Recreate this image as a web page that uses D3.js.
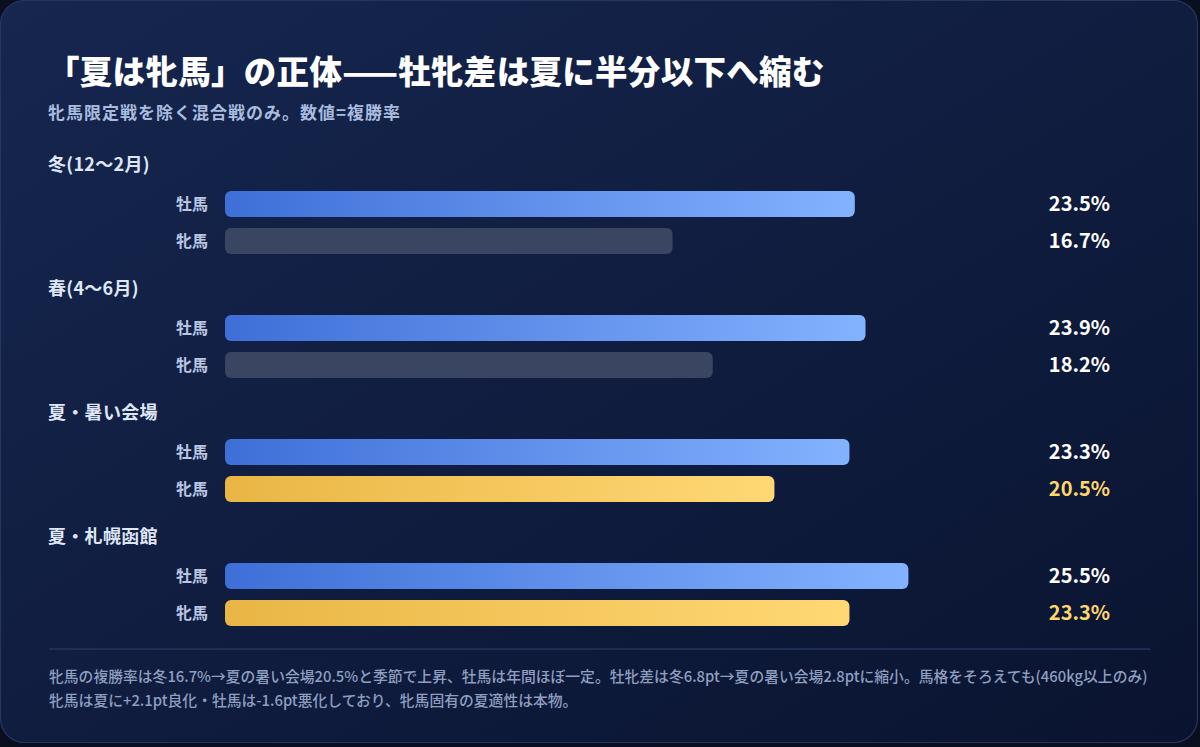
<!DOCTYPE html>
<html>
<head>
<meta charset="utf-8">
<script src="https://cdn.jsdelivr.net/npm/d3@7"></script>
<style>
  html, body { margin: 0; padding: 0; background: #0a0f1f; }
  svg { display: block; font-family: "Noto Sans CJK JP", "Noto Sans", sans-serif; }
</style>
</head>
<body>
<div id="chart"></div>
<script>
var GROUPS = ["冬(12〜2月)", "春(4〜6月)", "夏・暑い会場", "夏・札幌函館"];
var SERIES = ["牡馬", "牝馬"];
var MALE_RATE = [23.5, 23.9, 23.3, 25.5];
var FEMALE_RATE = [16.7, 18.2, 20.5, 23.3];
var FEMALE_HIGHLIGHT = [false, false, true, true];

var TITLE = "「夏は牝馬」の正体——牡牝差は夏に半分以下へ縮む";
var SUBTITLE = "牝馬限定戦を除く混合戦のみ。数値=複勝率";
var NOTE_LINES = [
    "牝馬の複勝率は冬16.7%→夏の暑い会場20.5%と季節で上昇、牡馬は年間ほぼ一定。牡牝差は冬6.8pt→夏の暑い会場2.8ptに縮小。馬格をそろえても(460kg以上のみ)",
    "牝馬は夏に+2.1pt良化・牡馬は-1.6pt悪化しており、牝馬固有の夏適性は本物。"
];

const WIDTH = 1200;
const HEIGHT = 747;

const svg = d3.select("#chart")
    .append("svg")
        .attr("width", WIDTH)
        .attr("height", HEIGHT);

const defs = svg.append("defs");

const cardGrad = defs.append("linearGradient")
    .attr("id", "card-grad")
    .attr("x1", "0").attr("y1", "0").attr("x2", "1").attr("y2", "1");
cardGrad.append("stop").attr("offset", "0%").attr("stop-color", "#16264f");
cardGrad.append("stop").attr("offset", "100%").attr("stop-color", "#0a1430");

const makeBarGrad = (id, from, to) => {
    let g = defs.append("linearGradient")
        .attr("id", id)
        .attr("x1", "0").attr("y1", "0").attr("x2", "1").attr("y2", "0");
    g.append("stop").attr("offset", "0%").attr("stop-color", from);
    g.append("stop").attr("offset", "100%").attr("stop-color", to);
}
makeBarGrad("male-grad", "#3e6fd7", "#83b2ff");
makeBarGrad("gold-grad", "#e9b645", "#ffd874");

// Card
svg.append("rect")
    .attr("x", 0.5)
    .attr("y", 0.5)
    .attr("width", WIDTH - 3)
    .attr("height", HEIGHT - 5)
    .attr("rx", 24)
    .attr("fill", "url(#card-grad)")
    .attr("stroke", "#25365f")
    .attr("stroke-width", 1.2);

// Title + subtitle
svg.append("text")
    .attr("x", 47)
    .attr("y", 84)
    .attr("fill", "#ffffff")
    .attr("font-size", 32.5)
    .attr("font-weight", 900)
    .attr("letter-spacing", "0.3px")
    .text(TITLE);

svg.append("text")
    .attr("x", 48)
    .attr("y", 119)
    .attr("fill", "#a9bcdf")
    .attr("font-size", 17)
    .attr("font-weight", "bold")
    .attr("letter-spacing", "1px")
    .text(SUBTITLE);

// Scales
let xScale = d3.scaleLinear().domain([0, 30]).range([225, 1029]);
let groupScale = d3.scalePoint().domain(GROUPS).range([204, 576]);
const BAR_H = 26;
const BAR_GAP = 37;

GROUPS.forEach((group, i) => {
    let cy = groupScale(group);

    svg.append("text")
        .attr("x", 48)
        .attr("y", cy - 39)
        .attr("dy", "0.36em")
        .attr("fill", "#dfe7f7")
        .attr("font-size", 18)
        .attr("font-weight", "bold")
        .attr("letter-spacing", "0.3px")
        .text(group);

    let rows = [
        {name: SERIES[0], value: MALE_RATE[i], fill: "url(#male-grad)", color: "#ffffff"},
        {name: SERIES[1], value: FEMALE_RATE[i],
            fill: FEMALE_HIGHLIGHT[i] ? "url(#gold-grad)" : "#3a4562",
            color: FEMALE_HIGHLIGHT[i] ? "#ffd66e" : "#ffffff"}
    ];

    rows.forEach((row, j) => {
        let y = cy + j * BAR_GAP;

        svg.append("text")
            .attr("x", 208)
            .attr("y", y)
            .attr("dy", "0.36em")
            .attr("text-anchor", "end")
            .attr("fill", "#b9c7e3")
            .attr("font-size", 16)
            .attr("font-weight", "bold")
            .text(row.name);

        svg.append("rect")
            .attr("x", xScale(0))
            .attr("y", y - BAR_H / 2)
            .attr("width", xScale(row.value) - xScale(0))
            .attr("height", BAR_H)
            .attr("rx", 6)
            .attr("fill", row.fill);

        svg.append("text")
            .attr("x", 1110)
            .attr("y", y)
            .attr("dy", "0.36em")
            .attr("text-anchor", "end")
            .attr("fill", row.color)
            .attr("font-size", 20)
            .attr("font-weight", "bold")
            .text(row.value.toFixed(1) + "%");
    });
});

// Divider + note
svg.append("line")
    .attr("x1", 49).attr("x2", 1150)
    .attr("y1", 649).attr("y2", 649)
    .attr("stroke", "#24355e")
    .attr("stroke-width", 1.5);

NOTE_LINES.forEach((line, i) => {
    svg.append("text")
        .attr("x", 49)
        .attr("y", 677 + i * 23.5)
        .attr("dy", "0.36em")
        .attr("fill", "#8e9fc0")
        .attr("font-size", 14.8)
        .attr("font-weight", 500)
        .text(line);
});
</script>
</body>
</html>
